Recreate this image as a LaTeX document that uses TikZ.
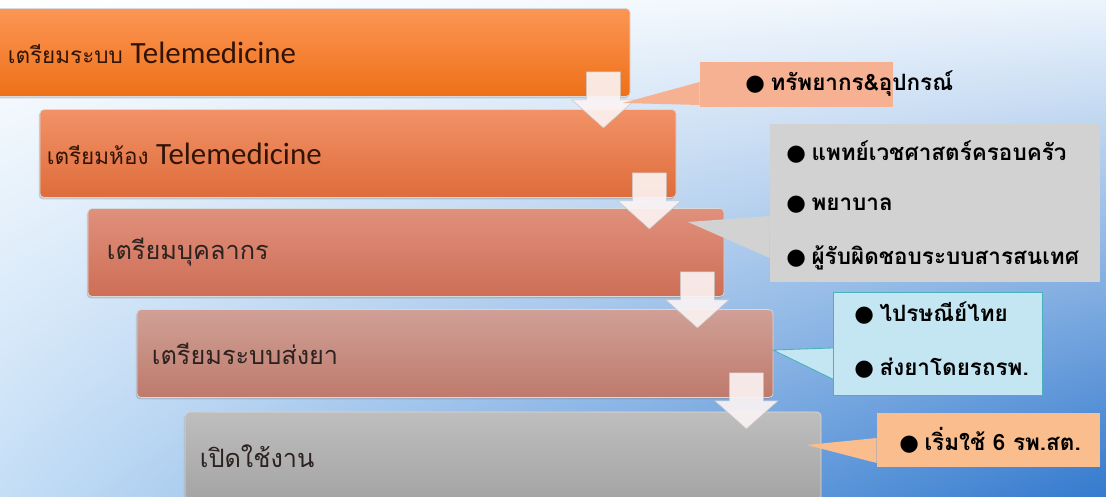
\documentclass[tikz,border=0pt]{standalone}
\usepackage{fontspec}
\setmainfont{Carlito}
\newfontfamily\thaifont[Script=Thai]{Loma}
\newfontfamily\dotfont{DejaVu Sans}
\usetikzlibrary{shadows,shadings}

\definecolor{bgtr}{RGB}{236,244,252}
\definecolor{bgbl}{RGB}{196,222,246}
\definecolor{bgbr}{RGB}{52,122,206}
\definecolor{orangetop}{RGB}{252,150,84}
\definecolor{orangebot}{RGB}{238,112,24}
\definecolor{coraltop}{RGB}{242,146,102}
\definecolor{coralbot}{RGB}{222,108,60}
\definecolor{salmontop}{RGB}{224,144,124}
\definecolor{salmonbot}{RGB}{206,110,86}
\definecolor{rosetop}{RGB}{208,160,150}
\definecolor{rosebot}{RGB}{190,122,108}
\definecolor{greytop}{RGB}{190,190,190}
\definecolor{greybot}{RGB}{164,164,164}
\definecolor{notepeach}{RGB}{246,176,146}
\definecolor{notegrey}{RGB}{210,210,210}
\definecolor{noteblue}{RGB}{196,230,242}
\definecolor{noteteal}{RGB}{72,178,188}
\definecolor{noteapricot}{RGB}{250,190,142}
\definecolor{inkbrown}{RGB}{50,20,6}
\definecolor{inkgrey}{RGB}{44,34,32}
\definecolor{arrowpink}{RGB}{252,244,244}

% down block arrow below the right end of a step box
\newcommand{\dnarrow}[1]{%
  \filldraw[arrowfill] ([xshift=-1.1cm, yshift=0.625cm]#1.south east)
    -- ++(0.85cm,0) -- ++(0,-0.7cm) -- ++(0.3625cm,0)
    -- ++(-0.7875cm,-0.7cm) -- ++(-0.7875cm,0.7cm) -- ++(0.3625cm,0) -- cycle;}
% bullet in front of a callout line
\newcommand{\dotitem}{{\dotfont ●}\kern4pt}

\begin{document}
\begin{tikzpicture}[x=0.025cm, y=-0.025cm,
    stepbox/.style={minimum width=15.9cm, minimum height=2.2cm, inner sep=0pt,
                    rounded corners=3pt, draw=white!85!black, line width=0.5pt,
                    drop shadow={shadow xshift=-0.8pt, shadow yshift=-1.4pt, opacity=0.35}},
    boxtext/.style={anchor=west, inner sep=0pt, font=\thaifont\fontsize{18}{22}\selectfont},
    note/.style={inner sep=0pt},
    notetext/.style={anchor=west, inner sep=0pt, font=\thaifont\bfseries\fontsize{16}{20}\selectfont},
    arrowfill/.style={fill=arrowpink, fill opacity=0.9, draw=black!22, line width=0.4pt},
]
\useasboundingbox (0,0) rectangle (1106,497);
\shade[upper left=white, upper right=bgtr, lower left=bgbl, lower right=bgbr]
      (0,0) rectangle (1106,497);

% Steps
\node[stepbox, top color=orangetop, bottom color=orangebot] (b1) at (312,52.5) {};
\node[stepbox, top color=coraltop, bottom color=coralbot] (b2) at (358,153.5) {};
\node[stepbox, top color=salmontop, bottom color=salmonbot] (b3) at (406,252.5) {};
\node[stepbox, top color=rosetop, bottom color=rosebot] (b4) at (455,353.5) {};
\node[stepbox, top color=greytop, bottom color=greybot] (b5) at (503,456) {};

% Step labels
\node[boxtext, text=inkbrown, font=\thaifont\fontsize{16}{20}\selectfont] (l1) at ([xshift=0.35cm]b1.west)
     {เตรียมระบบ {\rmfamily\fontsize{22}{26}\selectfont Telemedicine}};
\node[boxtext, text=inkbrown, font=\thaifont\fontsize{16}{20}\selectfont] (l2) at ([xshift=0.175cm]b2.west)
     {เตรียมห้อง {\rmfamily\fontsize{22}{26}\selectfont Telemedicine}};
\node[boxtext, text=inkgrey] (l3) at ([xshift=0.475cm]b3.west) {เตรียมบุคลากร};
\node[boxtext, text=inkgrey] (l4) at ([xshift=0.375cm]b4.west) {เตรียมระบบส่งยา};
\node[boxtext, text=inkgrey] (l5) at ([xshift=0.375cm]b5.west) {เปิดใช้งาน};

% Block arrows between steps
\dnarrow{b1}
\dnarrow{b2}
\dnarrow{b3}
\dnarrow{b4}

% Callouts
\node[note, fill=notepeach, minimum width=4.825cm, minimum height=1.125cm] (c1) at (796.5,84.5) {};
\node[note, fill=notegrey, minimum width=8.25cm, minimum height=3.95cm] (c2) at (935,203) {};
\node[note, fill=noteblue, draw=noteteal, line width=0.6pt,
      minimum width=5.225cm, minimum height=2.575cm] (c3) at (937.5,343.5) {};
\node[note, fill=noteapricot, minimum width=5.575cm, minimum height=1.35cm] (c4) at (988.5,440) {};

% Callout pointers
\coordinate (t1) at (623,103);
\coordinate (t2) at (688,222);
\coordinate (t3) at (773,350);
\coordinate (t4) at (807,445);
\fill[notepeach] (c1.west |- 0,82) -- (t1) -- (c1.west |- 0,105) -- cycle;
\fill[notegrey] (c2.west |- 0,216) -- (t2) -- (c2.west |- 0,258) -- cycle;
\fill[noteblue] (c3.west |- 0,348) -- (t3) -- (c3.west |- 0,379) -- cycle;
\draw[noteblue, line width=1.2pt] (c3.west |- 0,349) -- (c3.west |- 0,378);
\draw[noteteal, line width=0.6pt] (c3.west |- 0,348) -- (t3) -- (c3.west |- 0,379);
\fill[noteapricot] (c4.west |- 0,438) -- (t4) -- (c4.west |- 0,463) -- cycle;

% Callout texts
\node[notetext] (n1) at (745,84) {\dotitem ทรัพยากร\&อุปกรณ์};
\node[notetext] (n2a) at (786,152) {\dotitem แพทย์เวชศาสตร์ครอบครัว};
\node[notetext] (n2b) at (786,205) {\dotitem พยาบาล};
\node[notetext] (n2c) at (786,258) {\dotitem ผู้รับผิดชอบระบบสารสนเทศ};
\node[notetext] (n3a) at (854,313) {\dotitem ไปรษณีย์ไทย};
\node[notetext] (n3b) at (854,368) {\dotitem ส่งยาโดยรถรพ.};
\node[notetext] (n4) at (899,440) {\dotitem เริ่มใช้ 6 รพ.สต.};

\end{tikzpicture}
\end{document}
